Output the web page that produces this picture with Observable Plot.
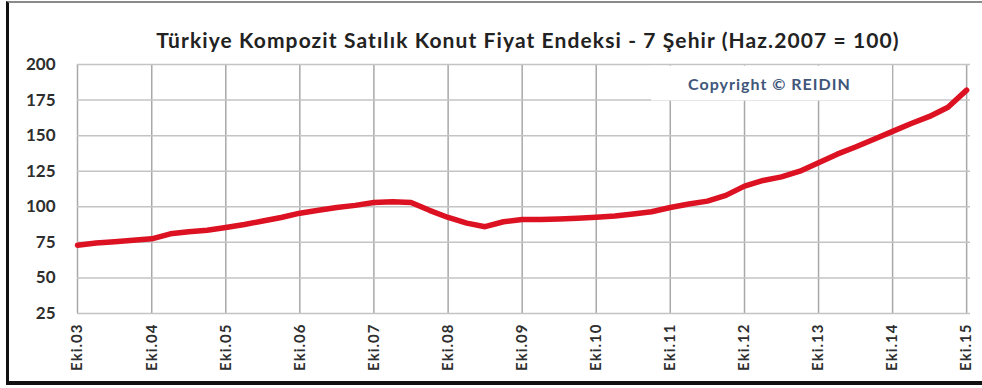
<!DOCTYPE html>
<html><head><meta charset="utf-8">
<script src="https://cdn.jsdelivr.net/npm/d3@7"></script>
<script src="https://cdn.jsdelivr.net/npm/@observablehq/plot@0.6"></script>
<style>
body{margin:0;background:#fff;}
#wrap{position:relative;width:982px;height:388px;overflow:hidden;background:#fff;}
#wrap svg{position:absolute;left:0;top:0;}
#border{position:absolute;left:6px;top:1px;width:976px;height:384px;border-left:3px solid #111;border-bottom:4px solid #111;border-top:2px solid #8a8a8a;box-sizing:border-box;pointer-events:none;}
</style></head><body>
<div id="wrap"><div id="border"></div></div>
<script>
// Quarterly readings of the index (Oct 2003 – Oct 2015)
const dates = [
  "2003-10","2004-01","2004-04","2004-07","2004-10","2005-01","2005-04","2005-07",
  "2005-10","2006-01","2006-04","2006-07","2006-10","2007-01","2007-04","2007-07",
  "2007-10","2008-01","2008-04","2008-07","2008-10","2009-01","2009-04","2009-07",
  "2009-10","2010-01","2010-04","2010-07","2010-10","2011-01","2011-04","2011-07",
  "2011-10","2012-01","2012-04","2012-07","2012-10","2013-01","2013-04","2013-07",
  "2013-10","2014-01","2014-04","2014-07","2014-10","2015-01","2015-04","2015-07",
  "2015-10"
];
const values = [
  73.0, 74.5, 75.5, 76.5, 77.5, 81.0, 82.5, 83.5,
  85.5, 87.5, 90.0, 92.5, 95.5, 97.5, 99.5, 101.0,
  103.0, 103.5, 103.0, 97.5, 92.5, 88.5, 86.0, 89.5,
  91.0, 91.0, 91.5, 92.0, 92.7, 93.5, 95.0, 96.5,
  99.5, 102.0, 104.0, 108.0, 114.5, 118.5, 121.0, 125.0,
  131.0, 137.0, 142.0, 147.5, 153.0, 158.5, 163.5, 170.0,
  182.0
];
const tickDates = ["2003-10","2004-10","2005-10","2006-10","2007-10","2008-10","2009-10",
                   "2010-10","2011-10","2012-10","2013-10","2014-10","2015-10"];
const tickLabels = ["Eki.03","Eki.04","Eki.05","Eki.06","Eki.07","Eki.08","Eki.09",
                    "Eki.10","Eki.11","Eki.12","Eki.13","Eki.14","Eki.15"];
const yTicks = [25, 50, 75, 100, 125, 150, 175, 200];
const titleText = "Türkiye Kompozit Satılık Konut Fiyat Endeksi - 7 Şehir (Haz.2007 = 100)";
const copyrightText = "Copyright © REIDIN";

const parse = d3.utcParse("%Y-%m");
const data = dates.map((d, i) => ({date: parse(d), value: values[i]}));
const ticks = tickDates.map(parse);
const labelOf = new Map(ticks.map((t, i) => [+t, tickLabels[i]]));

// annotation placement (data space)
const noteBox = [{x1: parse("2011-07"), x2: parse("2014-10"), y1: 174.4, y2: 198.8}];
const note = [{x: parse("2013-02"), y: 185.5, text: copyrightText}];

const chart = Plot.plot({
  width: 982, height: 388,
  marginLeft: 77, marginRight: 12, marginTop: 64, marginBottom: 75,
  style: {fontFamily: "Lato, sans-serif", background: "transparent", color: "#333"},
  x: {type: "utc", domain: [parse("2003-10"), new Date(Date.UTC(2015, 9, 20))]},
  y: {domain: [25, 200]},
  marks: [
    Plot.gridX(ticks, {stroke: "#a8a8a8", strokeOpacity: 1, strokeWidth: 1.5}),
    Plot.gridY(yTicks, {stroke: "#c4c4c4", strokeOpacity: 1, strokeWidth: 1.5}),
    Plot.rect(noteBox, {x1: "x1", x2: "x2", y1: "y1", y2: "y2", fill: "white"}),
    Plot.line(data, {x: "date", y: "value", stroke: "#dc1223", strokeWidth: 5.5, strokeLinejoin: "round"}),
    Plot.axisY(yTicks, {tickSize: 0, tickPadding: 22, fontSize: 17, fontWeight: "bold", fill: "#2e2e2e", label: null}),
    Plot.axisX(ticks, {tickSize: 0, tickPadding: 10, tickRotate: -90, tickFormat: d => labelOf.get(+d),
                       fontSize: 15, fontWeight: "bold", fill: "#2e2e2e", label: null}),
    Plot.text([titleText], {text: d => d, frameAnchor: "top", dy: -31, dx: 4, fontSize: 21, fontWeight: "bold", fill: "#222"}),
    Plot.text(note, {x: "x", y: "y", text: "text", fontSize: 16, fontWeight: "bold", fill: "#40567a"})
  ]
});
const sel = d3.select(chart);
sel.selectAll('g[aria-label="x-axis tick label"] text').style("letter-spacing", "1px");
const textGroups = sel.selectAll('g[aria-label="text"]').nodes();
d3.select(textGroups[0]).selectAll("text").style("letter-spacing", "1.1px");
d3.select(textGroups[1]).selectAll("text").style("letter-spacing", "1px");
document.getElementById("wrap").prepend(chart);
</script>
</body></html>
